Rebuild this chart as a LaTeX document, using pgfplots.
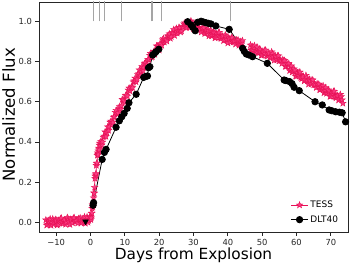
\documentclass[border=0pt]{standalone}
\usepackage{pgfplots}
\pgfplotsset{compat=1.18}
\usepackage{fontspec}
\setmainfont{DejaVu Sans}
\definecolor{tesspink}{RGB}{232,16,86}
\definecolor{tessfill}{RGB}{250,60,130}
\definecolor{speccol}{RGB}{165,165,165}
\pgfdeclareplotmark{fstar}{%
  \pgfpathmoveto{\pgfpoint{0pt}{\pgfplotmarksize}}%
  \pgfpathlineto{\pgfpoint{-0.235\pgfplotmarksize}{0.324\pgfplotmarksize}}%
  \pgfpathlineto{\pgfpoint{-0.951\pgfplotmarksize}{0.309\pgfplotmarksize}}%
  \pgfpathlineto{\pgfpoint{-0.380\pgfplotmarksize}{-0.124\pgfplotmarksize}}%
  \pgfpathlineto{\pgfpoint{-0.588\pgfplotmarksize}{-0.809\pgfplotmarksize}}%
  \pgfpathlineto{\pgfpoint{0pt}{-0.4\pgfplotmarksize}}%
  \pgfpathlineto{\pgfpoint{0.588\pgfplotmarksize}{-0.809\pgfplotmarksize}}%
  \pgfpathlineto{\pgfpoint{0.380\pgfplotmarksize}{-0.124\pgfplotmarksize}}%
  \pgfpathlineto{\pgfpoint{0.951\pgfplotmarksize}{0.309\pgfplotmarksize}}%
  \pgfpathlineto{\pgfpoint{0.235\pgfplotmarksize}{0.324\pgfplotmarksize}}%
  \pgfpathclose
  \pgfusepathqfillstroke}

\pgfplotstableread{
x y
-13.0 0.012
-12.75 -0.014
-12.5 -0.009
-12.25 0.008
-12.0 0.005
-11.75 0.017
-11.5 -0.015
-11.25 -0.003
-11.0 0.017
-10.75 -0.010
-10.5 -0.001
-10.25 0.014
-10.0 0.011
-9.75 -0.014
-9.5 -0.010
-9.25 0.009
-9.0 0.005
-8.75 0.018
-8.5 0.021
-8.25 -0.003
-8.0 -0.006
-7.75 0.007
-7.5 0.011
-7.25 -0.010
-7.0 0.000
-6.75 0.024
-6.5 0.016
-6.25 0.003
-6.0 -0.011
-5.75 0.015
-5.5 0.010
-5.25 -0.003
-5.0 0.021
-4.75 0.023
-4.5 0.001
-4.25 0.008
-4.0 0.008
-3.75 -0.004
-3.5 0.018
-3.25 0.015
-3.0 0.022
-2.75 -0.004
-2.5 0.001
-2.25 0.017
-2.0 0.015
-1.75 0.027
-1.5 -0.005
-1.25 0.006
-1.0 0.027
-0.75 0.000
-0.5 0.009
-0.25 0.026
0.0 0.028
0.1 0.013
0.2 0.022
0.3 0.045
0.4 0.046
0.5 0.069
0.6 0.087
0.7 0.077
0.8 0.089
0.9 0.122
1.0 0.146
1.1 0.145
1.2 0.174
1.3 0.218
1.4 0.230
1.5 0.236
1.6 0.242
1.7 0.283
1.8 0.293
1.9 0.295
2.0 0.333
2.1 0.345
2.2 0.338
2.3 0.355
2.4 0.369
2.5 0.362
2.6 0.384
2.7 0.394
2.8 0.392
2.9 0.381
3.0 0.402
3.25 0.385
3.5 0.399
3.75 0.424
4.0 0.429
4.25 0.450
4.5 0.427
4.75 0.447
5.0 0.475
5.25 0.457
5.5 0.475
5.75 0.498
6.0 0.503
6.25 0.486
6.5 0.497
6.75 0.523
7.0 0.526
7.25 0.547
7.5 0.557
7.75 0.540
8.0 0.544
8.25 0.565
8.5 0.576
8.75 0.563
9.0 0.579
9.25 0.611
9.5 0.610
9.75 0.604
10.0 0.597
10.25 0.631
10.5 0.633
10.75 0.628
11.0 0.658
11.25 0.668
11.5 0.653
11.75 0.668
12.0 0.674
12.25 0.670
12.5 0.699
12.75 0.704
13.0 0.717
13.25 0.699
13.5 0.711
13.75 0.735
14.0 0.739
14.25 0.758
14.5 0.732
14.75 0.749
15.0 0.775
15.25 0.755
15.5 0.770
15.75 0.790
16.0 0.793
16.25 0.775
16.5 0.785
16.75 0.809
17.0 0.811
17.25 0.831
17.5 0.840
17.75 0.821
18.0 0.824
18.25 0.842
18.5 0.851
18.75 0.835
19.0 0.849
19.25 0.878
19.5 0.875
19.75 0.866
20.0 0.857
20.25 0.888
20.5 0.888
20.75 0.880
21.0 0.908
21.25 0.914
21.5 0.896
21.75 0.907
22.0 0.909
22.25 0.901
22.5 0.927
22.75 0.928
23.0 0.937
23.25 0.915
23.5 0.924
23.75 0.944
24.0 0.944
24.25 0.959
24.5 0.929
24.75 0.943
25.0 0.965
25.25 0.941
25.5 0.952
25.75 0.969
26.0 0.968
26.25 0.946
26.5 0.952
26.75 0.973
27.0 0.971
27.25 0.987
27.5 0.992
27.75 0.970
28.0 0.969
28.25 0.984
28.5 0.989
28.75 0.969
29.0 0.979
29.25 1.002
29.5 0.993
29.75 0.978
30.0 0.962
30.25 0.986
30.5 0.978
30.75 0.963
31.0 0.983
31.25 0.983
31.5 0.958
31.75 0.963
32.0 0.959
32.25 0.946
32.5 0.967
32.75 0.963
33.0 0.967
33.25 0.939
33.5 0.941
33.75 0.955
34.0 0.949
34.25 0.960
34.5 0.927
34.75 0.937
35.0 0.955
35.25 0.927
35.5 0.935
35.75 0.948
36.0 0.943
36.25 0.917
36.5 0.920
36.75 0.937
37.0 0.931
37.25 0.943
37.5 0.945
37.75 0.919
38.0 0.914
38.25 0.925
38.5 0.926
38.75 0.903
39.0 0.909
39.25 0.932
39.5 0.923
39.75 0.908
40.0 0.892
40.25 0.917
40.5 0.911
40.75 0.897
41.0 0.918
41.25 0.919
41.5 0.896
41.75 0.902
42.0 0.899
42.25 0.886
42.5 0.907
42.75 0.903
43.0 0.907
43.25 0.880
43.5 0.884
43.75 0.899
44.0 0.894
44.25 0.904
44.5 0.869
}\tessA

\pgfplotstableread{
x y
46.6 0.882
46.8 0.855
47.0 0.859
47.25 0.874
47.5 0.869
47.75 0.879
48.0 0.844
48.25 0.854
48.5 0.872
48.75 0.843
49.0 0.850
49.25 0.862
49.5 0.857
49.75 0.830
50.0 0.832
50.25 0.849
50.5 0.843
50.75 0.855
51.0 0.857
51.25 0.831
51.5 0.826
51.75 0.838
52.0 0.841
52.25 0.818
52.5 0.825
52.75 0.848
53.0 0.838
53.25 0.822
53.5 0.806
53.75 0.830
54.0 0.823
54.25 0.808
54.5 0.828
54.75 0.828
55.0 0.803
55.25 0.808
55.5 0.804
55.75 0.790
56.0 0.809
56.25 0.803
56.5 0.805
56.75 0.775
57.0 0.776
57.25 0.789
57.5 0.782
57.75 0.790
58.0 0.754
58.25 0.762
58.5 0.778
58.75 0.747
59.0 0.752
59.25 0.763
59.5 0.756
59.75 0.727
60.0 0.727
60.25 0.743
60.5 0.736
60.75 0.747
61.0 0.747
61.25 0.720
61.5 0.714
61.75 0.725
62.0 0.726
62.25 0.703
62.5 0.709
62.75 0.731
63.0 0.720
63.25 0.704
63.5 0.687
63.75 0.711
64.0 0.703
64.25 0.688
64.5 0.708
64.75 0.708
65.0 0.683
65.25 0.688
65.5 0.684
65.75 0.670
66.0 0.689
66.25 0.684
66.5 0.687
66.75 0.659
67.0 0.661
67.25 0.675
67.5 0.669
67.75 0.679
68.0 0.644
68.25 0.653
68.5 0.670
68.75 0.641
69.0 0.647
69.25 0.659
69.5 0.653
69.75 0.626
70.0 0.627
70.25 0.644
70.5 0.639
70.75 0.651
71.0 0.652
71.25 0.625
71.5 0.619
71.75 0.630
72.0 0.631
72.25 0.608
72.5 0.614
72.75 0.636
73.0 0.625
73.25 0.609
73.5 0.592
}\tessB

\pgfplotstableread{
x y
0.75 0.085
0.9 0.098
3.4 0.313
4.05 0.348
4.55 0.363
7.45 0.473
8.4 0.505
9.1 0.525
9.8 0.542
10.7 0.567
11.2 0.595
13.3 0.637
15.5 0.721
16.1 0.726
16.6 0.728
16.9 0.769
17.3 0.774
18.1 0.832
18.6 0.840
19.1 0.849
19.9 0.861
28.3 0.998
29.3 0.982
29.8 0.970
30.5 0.953
31.2 0.995
32.2 1.000
32.8 0.997
33.6 0.993
34.3 0.990
35.1 0.987
36.5 0.977
40.4 0.960
44.3 0.866
44.8 0.850
45.4 0.837
46.2 0.832
47.2 0.824
51.5 0.791
56.4 0.708
56.9 0.705
58.0 0.700
58.7 0.690
59.3 0.672
60.8 0.655
65.4 0.600
67.5 0.584
69.5 0.559
70.3 0.555
71.4 0.550
72.5 0.548
73.3 0.545
74.3 0.500
}\dlt

\begin{document}
\begin{tikzpicture}
\path[use as bounding box] (-39bp,-34bp) rectangle (311bp,232bp);
\begin{axis}[
  at={(0,0)}, anchor=south west,
  scale only axis, width=309bp, height=230bp,
  xmin=-15, xmax=75, ymin=-0.048, ymax=1.096,
  xtick={-10,0,10,20,30,40,50,60,70},
  xticklabels={−10,0,10,20,30,40,50,60,70},
  ytick={0,0.2,0.4,0.6,0.8,1.0},
  yticklabels={0.0,0.2,0.4,0.6,0.8,1.0},
  tick pos=left, tick align=outside, major tick length=3.5bp,
  tick style={black!85, line width=0.8bp},
  axis line style={black!85, line width=0.8bp},
  ticklabel style={font=\fontsize{8.4}{10}\selectfont, text=black!85},
  xlabel={Days from Explosion}, ylabel={Normalized Flux},
  xlabel style={font=\fontsize{15.4}{16}\selectfont, at={(axis description cs:0.5,-0.1196)}, anchor=base},
  ylabel style={font=\fontsize{16.6}{17}\selectfont, at={(axis description cs:-0.0777,0.51)}, anchor=base},
  legend style={at={(axis description cs:0.978,0.022)}, anchor=south east, draw=none, fill=none,
    font=\fontsize{9}{10}\selectfont, row sep=2.5bp, inner sep=1bp},
  legend cell align=left,
]
\addplot[speccol, line width=1.1bp, forget plot, unbounded coords=jump] coordinates {
  (0.9,1.0) (0.9,1.2) (nan,nan)
  (2.5,1.0) (2.5,1.2) (nan,nan)
  (4.0,1.0) (4.0,1.2) (nan,nan)
  (9.0,1.0) (9.0,1.2) (nan,nan)
  (17.9,1.0) (17.9,1.2) (nan,nan)
  (20.8,1.0) (20.8,1.2) (nan,nan)
  (40.9,1.0) (40.9,1.2)
};
\addplot[tesspink, line width=0.8bp, mark=fstar, mark size=3.4bp,
  mark options={draw=tesspink, fill=tessfill, line width=0.4bp}] table[x=x,y=y] {\tessA};
\addlegendentry{TESS}
\addplot[tesspink, line width=0.8bp, mark=fstar, mark size=3.4bp, forget plot,
  mark options={draw=tesspink, fill=tessfill, line width=0.4bp}] table[x=x,y=y] {\tessB};
\addplot[black, line width=0.8bp, mark=*, mark size=3.2bp] table[x=x,y=y] {\dlt};
\addlegendentry{DLT40}
\addplot[black, only marks, mark=triangle*, mark size=3.3bp, mark options={rotate=180}, forget plot]
  coordinates {(-1.45,0.004)};
\end{axis}
\end{tikzpicture}
\end{document}
